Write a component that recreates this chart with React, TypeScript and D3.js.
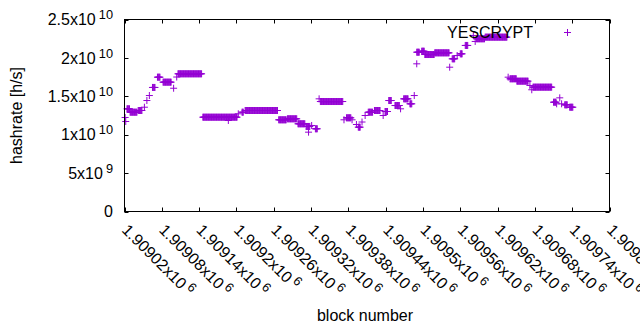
import * as d3 from 'd3';

// block ranges with a constant hashrate: [first block, last block, hashrate in 10^9 h/s]
const runs: [number, number, number][] = [
  [1909021, 1909021, 12.24],
  [1909022, 1909022, 11.72],
  [1909024, 1909028, 13.37],
  [1909029, 1909040, 12.93],
  [1909042, 1909048, 13.15],
  [1909052, 1909052, 13.58],
  [1909056, 1909056, 14.45],
  [1909060, 1909060, 15.1],
  [1909065, 1909069, 16.15],
  [1909073, 1909077, 17.49],
  [1909082, 1909095, 16.84],
  [1909099, 1909099, 16.05],
  [1909104, 1909104, 17.51],
  [1909106, 1909144, 17.93],
  [1909146, 1909201, 12.28],
  [1909187, 1909187, 11.85],
  [1909203, 1909203, 12.72],
  [1909209, 1909211, 12.93],
  [1909214, 1909266, 13.15],
  [1909268, 1909280, 11.94],
  [1909282, 1909297, 12.07],
  [1909299, 1909310, 11.42],
  [1909312, 1909318, 11.07],
  [1909316, 1909316, 10.33],
  [1909321, 1909321, 11.2],
  [1909327, 1909330, 10.77],
  [1909333, 1909333, 14.67],
  [1909335, 1909371, 14.32],
  [1909373, 1909373, 11.94],
  [1909377, 1909384, 12.2],
  [1909386, 1909386, 11.94],
  [1909393, 1909393, 11.33],
  [1909396, 1909399, 10.98],
  [1909402, 1909402, 11.65],
  [1909407, 1909407, 12.5],
  [1909412, 1909419, 12.93],
  [1909422, 1909431, 13.15],
  [1909436, 1909436, 12.5],
  [1909439, 1909443, 13.02],
  [1909445, 1909449, 14.45],
  [1909455, 1909462, 13.8],
  [1909464, 1909464, 13.37],
  [1909469, 1909476, 14.67],
  [1909479, 1909482, 14.02],
  [1909486, 1909486, 15.1],
  [1909490, 1909490, 19.23],
  [1909490, 1909494, 20.74],
  [1909498, 1909502, 20.87],
  [1909503, 1909518, 20.44],
  [1909519, 1909542, 20.66],
  [1909543, 1909543, 18.79],
  [1909547, 1909551, 19.88],
  [1909555, 1909555, 20.31],
  [1909560, 1909563, 20.53],
  [1909568, 1909572, 21.62],
  [1909581, 1909581, 22.92],
  [1909584, 1909584, 22.14],
  [1909586, 1909599, 22.49],
  [1909600, 1909635, 22.7],
  [1909637, 1909637, 17.49],
  [1909640, 1909650, 17.28],
  [1909651, 1909669, 16.97],
  [1909672, 1909672, 16.41],
  [1909675, 1909675, 15.85],
  [1909677, 1909707, 16.19],
  [1909710, 1909714, 14.23],
  [1909715, 1909715, 14.02],
  [1909720, 1909720, 14.8],
  [1909723, 1909723, 14.02],
  [1909728, 1909732, 13.89],
  [1909736, 1909741, 13.58],
];

const xTicks = [
  1909020, 1909080, 1909140, 1909200, 1909260, 1909320, 1909380,
  1909440, 1909500, 1909560, 1909620, 1909680, 1909740, 1909800,
];
const yTicks = [0, 5e9, 1e10, 1.5e10, 2e10, 2.5e10];
const seriesName = 'YESCRYPT';

const W = 640;
const H = 330;
const left = 124.5, right = 609.5, top = 19.5, bottom = 211.5;
const font = '"Liberation Sans", Arial, sans-serif';
const color = '#9400d3';

const x = d3.scaleLinear().domain([xTicks[0], xTicks[xTicks.length - 1]]).range([left, right]);
const y = d3.scaleLinear().domain([0, 2.5e10]).range([bottom, top]);

// split a tick value into "mantissa x10" and exponent, gnuplot style
function sci(v: number): [string, string] | null {
  if (v === 0) return null;
  const e = Math.floor(Math.log10(Math.abs(v)) + 1e-9);
  const m = parseFloat((v / Math.pow(10, e)).toFixed(6));
  return [`${m}x10`, `${e}`];
}

function plus(p: d3.Path, cx: number, cy: number, s = 3.5) {
  p.moveTo(cx - s, cy);
  p.lineTo(cx + s, cy);
  p.moveTo(cx, cy - s);
  p.lineTo(cx, cy + s);
}

export default function App() {
  const pts = d3.path();
  runs.forEach(([b0, b1, v]) => {
    for (let b = b0; b <= b1; b++) plus(pts, x(b), y(v * 1e9));
  });

  const legend = d3.path();
  plus(legend, 567.5, 32.5);

  const t = 4;
  return (
    <svg
      width={W}
      height={H}
      style={{ position: 'absolute', left: 0, top: 0, background: '#fff' }}
      fontFamily={font}
      fontSize={16}
    >
      <rect width={W} height={H} fill="#fff" />

      {/* ticks, mirrored on top and right */}
      <g stroke="#000" strokeWidth={1}>
        {xTicks.map((v) => (
          <g key={'xt' + v}>
            <line x1={Math.round(x(v)) + 0.5} x2={Math.round(x(v)) + 0.5} y1={bottom} y2={bottom - t} />
            <line x1={Math.round(x(v)) + 0.5} x2={Math.round(x(v)) + 0.5} y1={top} y2={top + t} />
          </g>
        ))}
        {yTicks.map((v) => (
          <g key={'yt' + v}>
            <line x1={left} x2={left + t} y1={Math.round(y(v)) + 0.5} y2={Math.round(y(v)) + 0.5} />
            <line x1={right} x2={right - t} y1={Math.round(y(v)) + 0.5} y2={Math.round(y(v)) + 0.5} />
          </g>
        ))}
      </g>

      {/* y tick labels */}
      {yTicks.map((v) => {
        const s = sci(v);
        return (
          <text key={'yl' + v} x={113} y={y(v)} dy="0.35em" textAnchor="end" fill="#000">
            {s ? s[0] : '0'}
            {s && (
              <tspan dx={3} dy={-6} fontSize={12.8}>
                {s[1]}
              </tspan>
            )}
          </text>
        );
      })}

      {/* x tick labels, rotated */}
      {xTicks.map((v) => {
        const s = sci(v)!;
        return (
          <text
            key={'xl' + v}
            transform={`translate(${x(v) - 3.5},231) rotate(45)`}
            textAnchor="start"
            fill="#000"
          >
            {s[0]}
            <tspan dx={3} dy={-6} fontSize={12.8}>
              {s[1]}
            </tspan>
          </text>
        );
      })}

      <text transform={`translate(22,${(top + bottom) / 2}) rotate(-90)`} textAnchor="middle" fill="#000">
        hashrate [h/s]
      </text>
      <text x={(left + right) / 2 - 2} y={321} textAnchor="middle" fill="#000">
        block number
      </text>

      <path d={pts.toString()} stroke={color} strokeWidth={1} fill="none" />

      {/* key */}
      <text x={533} y={37.5} textAnchor="end" fill="#000">
        {seriesName}
      </text>
      <path d={legend.toString()} stroke={color} strokeWidth={1} fill="none" />

      <rect
        x={left}
        y={top}
        width={right - left}
        height={bottom - top}
        fill="none"
        stroke="#000"
        strokeWidth={1}
      />
    </svg>
  );
}
